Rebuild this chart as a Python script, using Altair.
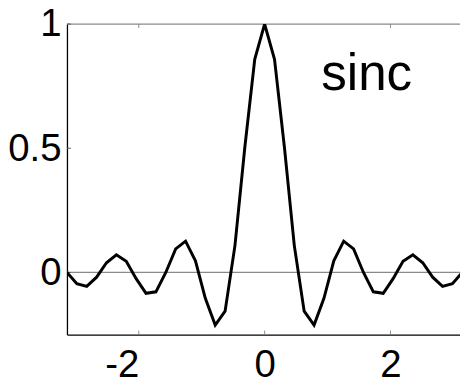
import altair as alt
import pandas as pd

# sample positions (x from -pi to pi) and values
x_vals = [-3.1416, -2.9845, -2.8274, -2.6704, -2.5133, -2.3562, -2.1991, -2.0420,
          -1.8850, -1.7279, -1.5708, -1.4137, -1.2566, -1.0996, -0.9425, -0.7854,
          -0.6283, -0.4712, -0.3142, -0.1571, 0.0,
          0.1571, 0.3142, 0.4712, 0.6283, 0.7854, 0.9425, 1.0996, 1.2566,
          1.4137, 1.5708, 1.7279, 1.8850, 2.0420, 2.1991, 2.3562, 2.5133,
          2.6704, 2.8274, 2.9845, 3.1416]
y_vals = [0.0, -0.045, -0.056, -0.019, 0.039, 0.071, 0.045, -0.025,
          -0.084, -0.078, 0.0, 0.095, 0.126, 0.047, -0.104, -0.212,
          -0.156, 0.109, 0.505, 0.858, 1.0,
          0.858, 0.505, 0.109, -0.156, -0.212, -0.104, 0.047, 0.126,
          0.095, 0.0, -0.078, -0.084, -0.025, 0.045, 0.071, 0.039,
          -0.019, -0.056, -0.045, 0.0]
x_ticks = [-2, 0, 2]
y_ticks = [0, 0.5, 1]
label_text = ["sinc"]
label_x = [0.9]
label_y = [0.736]

W, H = 400, 316
FONT = "Liberation Sans"
GRAY = "#8a8a8a"

xs = alt.Scale(domain=[-3.1416, 3.105], nice=False, zero=False)
ys = alt.Scale(domain=[-0.25, 1], nice=False, zero=False)

df = pd.DataFrame({"x": x_vals, "y": y_vals})
df_xt = pd.DataFrame({"x": x_ticks})
df_yt = pd.DataFrame({"y": y_ticks})
df_lab = pd.DataFrame({"x": label_x, "y": label_y, "t": label_text})

x_axis = alt.Axis(values=x_ticks, ticks=False, grid=False, labelFontSize=39,
                  labelFont=FONT, labelColor="black", labelPadding=12,
                  labelAlign={"condition": {"test": "datum.value < 0", "value": "right"}, "value": "center"},
                  domainColor="black", domainWidth=1.3, title=None,
                  labelExpr="'' + datum.value")
y_axis = alt.Axis(values=y_ticks, ticks=False, grid=False, labelFontSize=39,
                  labelFont=FONT, labelColor="black", labelPadding=6,
                  domainColor="black", domainWidth=1.3, title=None,
                  labelExpr="'' + datum.value")

line = alt.Chart(df).mark_line(color="black", strokeWidth=3, clip=True).encode(
    x=alt.X("x:Q", scale=xs, axis=x_axis),
    y=alt.Y("y:Q", scale=ys, axis=y_axis),
)

zero = alt.Chart(pd.DataFrame({"y": [0]})).mark_rule(color=GRAY, strokeWidth=1.2).encode(
    y=alt.Y("y:Q", title=None)
)
topline = alt.Chart(pd.DataFrame({"y": [1]})).mark_rule(color=GRAY, strokeWidth=1.2).encode(
    y=alt.Y("y:Q", title=None)
)
bticks = alt.Chart(df_xt).mark_rule(color=GRAY, strokeWidth=1).encode(
    x=alt.X("x:Q", title=None), y=alt.value(H), y2=alt.value(H - 4)
)
tticks = alt.Chart(df_xt).mark_rule(color=GRAY, strokeWidth=1).encode(
    x=alt.X("x:Q", title=None), y=alt.value(0), y2=alt.value(4)
)
lticks = alt.Chart(df_yt).mark_rule(color="#555", strokeWidth=1).encode(
    y=alt.Y("y:Q", title=None), x=alt.value(0), x2=alt.value(4)
)
label = alt.Chart(df_lab).mark_text(align="left", baseline="alphabetic", fontSize=52,
                                    font=FONT, color="black").encode(
    x=alt.X("x:Q", title=None), y=alt.Y("y:Q", title=None), text="t:N"
)

chart = alt.layer(zero, topline, bticks, tticks, lticks, line, label).properties(
    width=W, height=H,
    padding={"left": 60, "top": 13, "right": 0, "bottom": 47},
    autosize=alt.AutoSizeParams(type="none"),
).configure_view(stroke=None)

chart.save("out.html", embed_options={"renderer": "svg", "actions": False})
